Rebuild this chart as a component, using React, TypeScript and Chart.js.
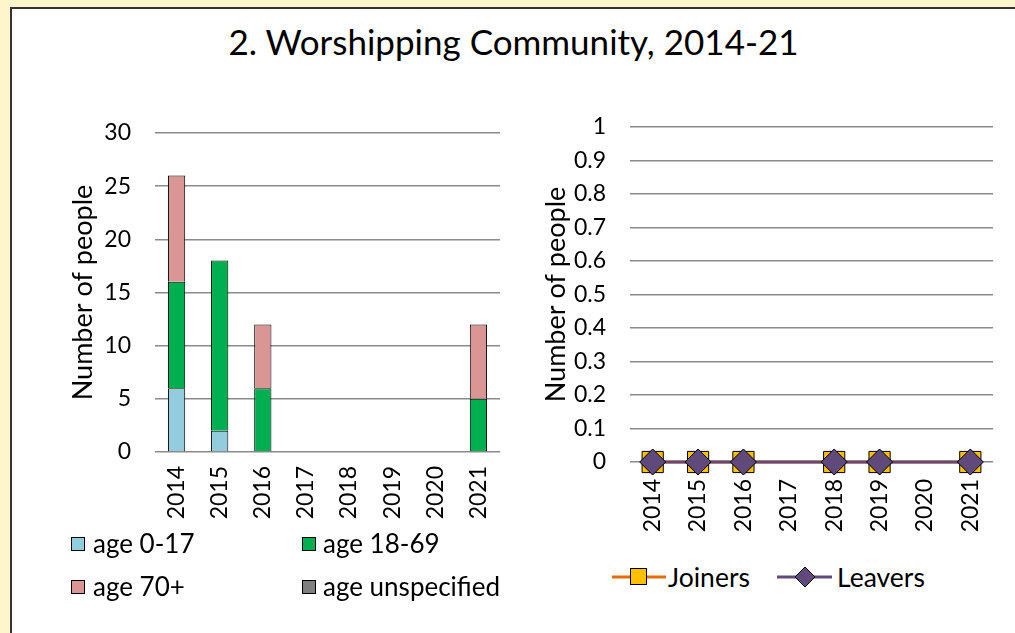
import React, { useEffect, useRef } from "react";
import { Chart, registerables } from "chart.js";

Chart.register(...registerables);

const years = ["2014", "2015", "2016", "2017", "2018", "2019", "2020", "2021"];
const age0to17 = [6, 2, null, null, null, null, null, null];
const age18to69 = [10, 16, 6, null, null, null, null, 5];
const age70plus = [10, null, 6, null, null, null, null, 7];
const ageUnspecified = [null, null, null, null, null, null, null, null];
const joiners = [0, 0, 0, null, 0, 0, null, 0];
const leavers = [0, 0, 0, null, 0, 0, null, 0];

const FONT = "Lato, 'Open Sans', sans-serif";
const GRID = "#8a8a8a";

export default function App() {
  const leftRef = useRef<HTMLCanvasElement>(null);
  const rightRef = useRef<HTMLCanvasElement>(null);

  useEffect(() => {
    const tickFont = { family: FONT, size: 23 };
    const titleFont = { family: FONT, size: 27 };
    const xGrid = (len: number) => ({
      display: true,
      drawOnChartArea: false,
      drawTicks: true,
      tickLength: len,
      color: "rgba(0,0,0,0)",
      tickColor: "rgba(0,0,0,0)",
    });
    const yGrid = {
      color: GRID,
      lineWidth: 1.5,
      drawTicks: true,
      tickLength: 24,
      tickColor: "rgba(0,0,0,0)",
    };
    const left = new Chart(leftRef.current!, {
      type: "bar",
      data: {
        labels: years,
        datasets: [
          { label: "age 0-17", data: age0to17, backgroundColor: "#93CDDD" },
          { label: "age 18-69", data: age18to69, backgroundColor: "#00B050" },
          { label: "age 70+", data: age70plus, backgroundColor: "#D99694" },
          { label: "age unspecified", data: ageUnspecified, backgroundColor: "#7F7F7F" },
        ].map((d) => ({
          ...d,
          borderColor: "#000",
          borderWidth: 1,
          barPercentage: 0.4,
          categoryPercentage: 1,
        })) as any,
      },
      options: {
        animation: false,
        responsive: false,
        layout: { padding: { top: 33, right: 20, left: 0, bottom: 0 } },
        plugins: { legend: { display: false }, tooltip: { enabled: false } },
        scales: {
          x: {
            stacked: true,
            grid: xGrid(14),
            border: { display: false },
            ticks: { color: "#000", font: tickFont, minRotation: 90, maxRotation: 90, padding: 0 },
            afterFit: (s: any) => { s.height = 88; },
          },
          y: {
            stacked: true,
            min: 0,
            max: 30,
            ticks: { stepSize: 5, color: "#000", font: tickFont, padding: 0 },
            grid: yGrid,
            border: { display: false },
            title: { display: true, text: "Number of people", color: "#000", font: titleFont, padding: { top: 17, bottom: 0 } },
            afterFit: (s: any) => { s.width = 105; },
          },
        },
      },
    });

    const right = new Chart(rightRef.current!, {
      type: "line",
      data: {
        labels: years,
        datasets: [
          {
            label: "Joiners",
            data: joiners,
            borderColor: "#E46C0A",
            borderWidth: 3,
            pointStyle: "rect",
            pointRadius: 15,
            pointBackgroundColor: "#FFC000",
            pointBorderColor: "#000",
            pointBorderWidth: 1,
            spanGaps: true,
            order: 1,
            clip: false,
          },
          {
            label: "Leavers",
            data: leavers,
            borderColor: "#604A7B",
            borderWidth: 3,
            pointStyle: "rectRot",
            pointRadius: 13,
            pointBackgroundColor: "#604A7B",
            pointBorderColor: "#000",
            pointBorderWidth: 1,
            spanGaps: true,
            order: 0,
            clip: false,
          },
        ] as any,
      },
      options: {
        animation: false,
        responsive: false,
        layout: { padding: { top: 27, right: 17, left: 0, bottom: 0 } },
        plugins: { legend: { display: false }, tooltip: { enabled: false } },
        scales: {
          x: {
            offset: true,
            grid: xGrid(17),
            border: { display: false },
            ticks: { color: "#000", font: tickFont, minRotation: 90, maxRotation: 90, padding: 0 },
            afterFit: (s: any) => { s.height = 78; },
          },
          y: {
            min: 0,
            max: 1,
            ticks: {
              stepSize: 0.1,
              color: "#000",
              font: tickFont,
              padding: 0,
              callback: (v: any) => (v === 0 || v === 1 ? String(v) : Number(v).toFixed(1)),
            },
            grid: yGrid,
            border: { display: false },
            title: { display: true, text: "Number of people", color: "#000", font: titleFont, padding: { top: 10, bottom: 0 } },
            afterFit: (s: any) => { s.width = 100; },
          },
        },
      },
    });

    return () => {
      left.destroy();
      right.destroy();
    };
  }, []);

  const legendText: React.CSSProperties = {
    position: "absolute",
    fontFamily: FONT,
    fontSize: 26,
    color: "#000",
    lineHeight: "28px",
    whiteSpace: "nowrap",
  };
  const sq = (x: number, y: number, c: string) => (
    <div
      style={{
        position: "absolute",
        left: x,
        top: y,
        width: 12,
        height: 12,
        background: c,
        border: "1px solid #000",
      }}
    />
  );

  return (
    <div style={{ position: "fixed", left: 0, top: 0, width: 1015, height: 633, background: "#FFF5CC", overflow: "hidden" }}>
      <div
        style={{
          position: "absolute",
          left: 10,
          top: 7,
          width: 1020,
          height: 640,
          background: "#fff",
          borderLeft: "2px solid #333",
          borderTop: "2px solid #333",
        }}
      />
      <div
        style={{
          position: "absolute",
          left: 12,
          top: 19,
          width: 1003,
          textAlign: "center",
          fontFamily: FONT,
          fontSize: 35,
          lineHeight: "44px",
          color: "#000",
        }}
      >
        2. Worshipping Community, 2014-21
      </div>
      <canvas ref={leftRef} width={470} height={440} style={{ position: "absolute", left: 50, top: 100 }} />
      <canvas ref={rightRef} width={480} height={440} style={{ position: "absolute", left: 530, top: 100 }} />

      {sq(71, 537, "#93CDDD")}
      <div style={{ ...legendText, left: 93, top: 529 }}>age 0-17</div>
      {sq(302, 537, "#00B050")}
      <div style={{ ...legendText, left: 323, top: 529 }}>age 18-69</div>
      {sq(71, 580, "#D99694")}
      <div style={{ ...legendText, left: 93, top: 572 }}>age 70+</div>
      {sq(302, 580, "#7F7F7F")}
      <div style={{ ...legendText, left: 323, top: 572 }}>age unspecified</div>

      <svg style={{ position: "absolute", left: 605, top: 562 }} width={240} height={30}>
        <line x1={7} y1={15} x2={61} y2={15} stroke="#E46C0A" strokeWidth={3} />
        <rect x={25.5} y={6.5} width={16} height={16} fill="#FFC000" stroke="#000" strokeWidth={1} />
        <line x1={172} y1={15} x2={227} y2={15} stroke="#604A7B" strokeWidth={3} />
        <polygon points="200,5 210,15 200,25 190,15" fill="#604A7B" stroke="#000" strokeWidth={1} />
      </svg>
      <div style={{ ...legendText, left: 668, top: 563, fontSize: 26.5 }}>Joiners</div>
      <div style={{ ...legendText, left: 837, top: 563, fontSize: 26.5 }}>Leavers</div>
    </div>
  );
}
